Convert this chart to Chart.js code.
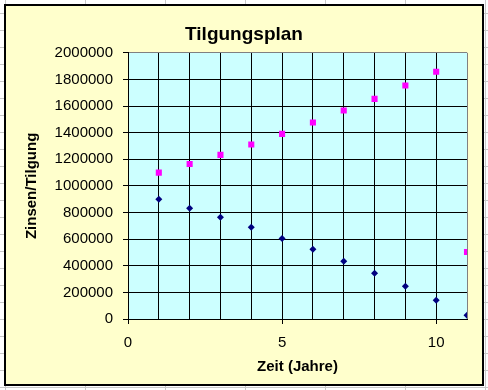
<!DOCTYPE html>
<html lang="de">
<head>
    <meta charset="UTF-8">
    <title>Tilgungsplan</title>
    <script src="https://cdn.jsdelivr.net/npm/chart.js@4/dist/chart.umd.min.js"></script>
    <style>
      html, body { margin: 0; padding: 0; }
      body {
        width: 488px; height: 390px; overflow: hidden; position: relative;
        background-color: #fff;
        background-image:
          linear-gradient(to right, #c8c8c8 1px, transparent 1px),
          linear-gradient(to bottom, #c8c8c8 1px, transparent 1px);
        background-size: 80px 17px;
        background-position: 5px 13px;
      }
      #box {
        position: absolute; left: 4px; top: 4px;
        width: 476px; height: 378px;
        border: 2px solid #000;
        background: #ffffcc;
      }
    </style>
    <script>
      // Jahre
      const years = [1, 2, 3, 4, 5, 6, 7, 8, 9, 10, 11]
      // Tilgung (dunkelblau) und Zinsen (magenta)
      const tilgung = [900000, 832000, 765000, 690000, 604000, 524000, 434000, 344000, 246000, 141000, 28000]
      const zinsen = [1100000, 1165000, 1233000, 1311000, 1391000, 1476000, 1566000, 1654000, 1754000, 1857000, 504000]

      const xMax = 11
      const yMax = 2000000

      window.onload = function() {
        const ctx = document.getElementById("chart").getContext('2d')

        const plotBg = {
          id: 'plotBg',
          beforeDraw(chart) {
            const { ctx, chartArea: a } = chart
            ctx.save()
            ctx.fillStyle = '#ccffff'
            ctx.fillRect(a.left, a.top, a.right - a.left, a.bottom - a.top)
            ctx.restore()
          }
        }

        const font = { family: '"Liberation Sans", Arial, sans-serif', size: 15 }
        const bold = { family: '"Liberation Sans", Arial, sans-serif', size: 15, weight: 'bold' }

        new Chart(ctx, {
          type: 'scatter',
          data: {
            datasets: [
              {
                label: 'Tilgung',
                data: years.map((x, i) => ({ x: x, y: tilgung[i] })),
                pointStyle: 'rectRot',
                pointRadius: 3.5,
                pointBorderWidth: 0,
                backgroundColor: '#000080',
                borderColor: '#000080'
              },
              {
                label: 'Zinsen',
                data: years.map((x, i) => ({ x: x, y: zinsen[i] })),
                pointStyle: 'rect',
                pointRadius: 4.3,
                pointBorderWidth: 0,
                backgroundColor: '#ff00ff',
                borderColor: '#ff00ff'
              }
            ]
          },
          options: {
            responsive: false,
            animation: false,
            layout: { padding: 0 },
            plugins: {
              legend: { display: false },
              tooltip: { enabled: false },
              title: {
                display: true,
                text: 'Tilgungsplan',
                color: '#000',
                font: { family: '"Liberation Sans", Arial, sans-serif', size: 19, weight: 'bold' },
                padding: { top: 17, bottom: 7 }
              }
            },
            scales: {
              x: {
                type: 'linear',
                min: 0,
                max: xMax,
                afterFit: (scale) => { scale.height = 65 },
                ticks: {
                  stepSize: 1,
                  color: '#000',
                  font: font,
                  padding: 10,
                  maxRotation: 0,
                  autoSkip: false,
                  callback: (v) => (v % 5 === 0 ? String(v) : '')
                },
                grid: {
                  color: (c) => (c.tick && c.tick.value === xMax ? '#808080' : '#000'),
                  tickColor: (c) => (c.tick && c.tick.value % 5 === 0 ? '#000' : 'rgba(0,0,0,0)'),
                  tickLength: 5,
                  lineWidth: 1
                },
                border: { display: true, color: '#000', width: 1 },
                title: {
                  display: true,
                  text: 'Zeit (Jahre)',
                  color: '#000',
                  font: bold,
                  padding: { top: 0, bottom: 8 }
                }
              },
              y: {
                min: 0,
                max: yMax,
                afterFit: (scale) => { scale.width = 122 },
                ticks: {
                  stepSize: 200000,
                  color: '#000',
                  font: font,
                  padding: 10,
                  callback: (v) => String(v)
                },
                grid: {
                  color: (c) => (c.tick && c.tick.value === yMax ? '#808080' : '#000'),
                  tickColor: '#000',
                  tickLength: 5,
                  lineWidth: 1
                },
                border: { display: true, color: '#000', width: 1 },
                title: {
                  display: true,
                  text: 'Zinsen/Tilgung',
                  color: '#000',
                  font: bold,
                  padding: { top: 17, bottom: 0 }
                }
              },
              // leerer Rand rechts neben der Zeichenfläche
              yRight: {
                position: 'right',
                min: 0,
                max: yMax,
                afterFit: (scale) => { scale.width = 15 },
                ticks: { display: false },
                grid: { display: false, drawTicks: false },
                border: { display: false }
              }
            }
          },
          plugins: [plotBg]
        })
      }
    </script>
</head>
<body>
<div id="box">
    <canvas id="chart" width="476" height="378"></canvas>
</div>
</body>
</html>
